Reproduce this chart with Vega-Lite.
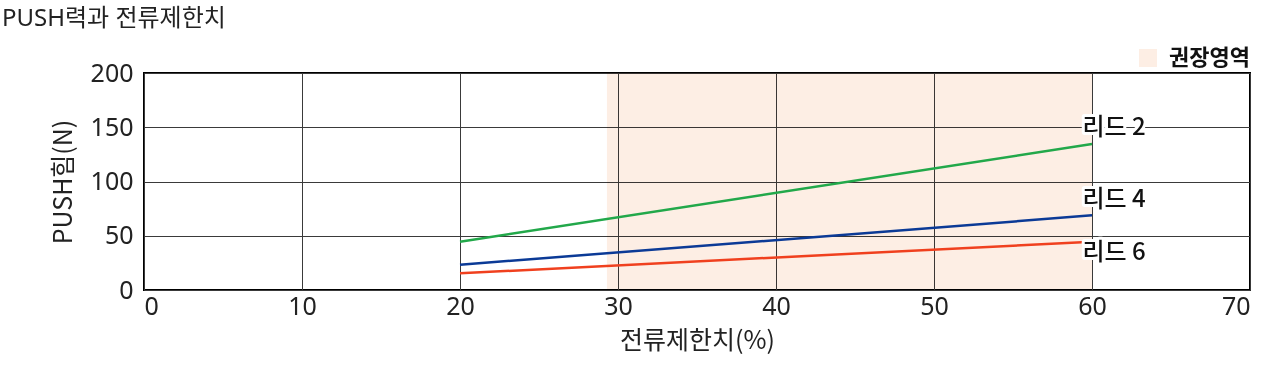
{
  "$schema": "https://vega.github.io/schema/vega-lite/v6.json",
  "width": 1106,
  "height": 217,
  "autosize": {"type": "none"},
  "padding": {"left": 144, "top": 73, "right": 30, "bottom": 77},
  "background": "white",
  "title": {
    "text": "PUSH력과 전류제한치",
    "anchor": "start",
    "frame": "group",
    "dx": -142,
    "offset": 16,
    "fontSize": 24,
    "fontWeight": "normal",
    "color": "#222222",
    "font": "Noto Sans, Noto Sans CJK KR"
  },
  "config": {
    "font": "Noto Sans, Noto Sans CJK KR",
    "view": {"stroke": "black", "strokeWidth": 2},
    "axis": {
      "grid": true,
      "gridColor": "#3a3a3a",
      "gridWidth": 1,
      "ticks": false,
      "domain": false,
      "labelFont": "Noto Sans, Noto Sans CJK KR",
      "labelFontSize": 25,
      "labelColor": "#222222",
      "titleFont": "Noto Sans CJK KR",
      "titleFontSize": 25,
      "titleFontWeight": "normal",
      "titleColor": "#222222"
    }
  },
  "datasets": {
    "zone": [{"start": 29.3, "end": 60, "zone": "권장영역"}],
    "lines": [
      {"lead": "리드 2", "pct": 20, "force": 44.5},
      {"lead": "리드 2", "pct": 60, "force": 134.6},
      {"lead": "리드 4", "pct": 20, "force": 23.3},
      {"lead": "리드 4", "pct": 60, "force": 68.8},
      {"lead": "리드 6", "pct": 20, "force": 15.4},
      {"lead": "리드 6", "pct": 60, "force": 44.5}
    ],
    "labels": [
      {"lead": "리드 2", "pct": 59.4, "force": 149},
      {"lead": "리드 4", "pct": 59.4, "force": 83},
      {"lead": "리드 6", "pct": 59.4, "force": 34}
    ]
  },
  "layer": [
    {
      "data": {"name": "zone"},
      "mark": {"type": "rect", "blend": "multiply"},
      "encoding": {
        "x": {
          "field": "start", "type": "quantitative",
          "scale": {"domain": [0, 70], "nice": false},
          "axis": {"values": [0, 10, 20, 30, 40, 50, 60, 70], "labelPadding": 4, "title": "전류제한치(%)", "titlePadding": 9}
        },
        "x2": {"field": "end"},
        "fill": {
          "field": "zone", "type": "nominal",
          "scale": {"domain": ["권장영역"], "range": ["#fdeee4"]},
          "legend": {
            "title": null,
            "orient": "none",
            "legendX": 993,
            "legendY": -26,
            "padding": 0,
            "symbolType": "square",
            "symbolSize": 324,
            "symbolStrokeWidth": 0,
            "symbolOpacity": 1,
            "labelFontSize": 22,
            "labelFontWeight": "bold",
            "labelColor": "#111111",
            "labelOffset": 10,
            "labelFont": "Noto Sans CJK KR"
          }
        }
      }
    },
    {
      "data": {"name": "lines"},
      "mark": {"type": "line", "strokeWidth": 2.5},
      "encoding": {
        "x": {"field": "pct", "type": "quantitative"},
        "y": {
          "field": "force", "type": "quantitative",
          "scale": {"domain": [0, 200], "nice": false},
          "axis": {"values": [0, 50, 100, 150, 200], "labelPadding": 11, "title": "PUSH힘(N)", "titlePadding": 14}
        },
        "stroke": {
          "field": "lead", "type": "nominal",
          "scale": {"domain": ["리드 2", "리드 4", "리드 6"], "range": ["#22a84a", "#0b3a96", "#f0401e"]},
          "legend": null
        }
      }
    },
    {
      "data": {"name": "labels"},
      "mark": {"type": "text", "align": "left", "baseline": "middle", "fontSize": 24, "font": "Noto Sans CJK KR", "fontWeight": 500, "stroke": "white", "strokeWidth": 6, "fill": "white", "strokeJoin": "round"},
      "encoding": {
        "x": {"field": "pct", "type": "quantitative"},
        "y": {"field": "force", "type": "quantitative"},
        "text": {"field": "lead"}
      }
    },
    {
      "data": {"name": "labels"},
      "mark": {"type": "text", "align": "left", "baseline": "middle", "fontSize": 24, "font": "Noto Sans CJK KR", "fontWeight": 500, "color": "#111111"},
      "encoding": {
        "x": {"field": "pct", "type": "quantitative"},
        "y": {"field": "force", "type": "quantitative"},
        "text": {"field": "lead"}
      }
    }
  ]
}
